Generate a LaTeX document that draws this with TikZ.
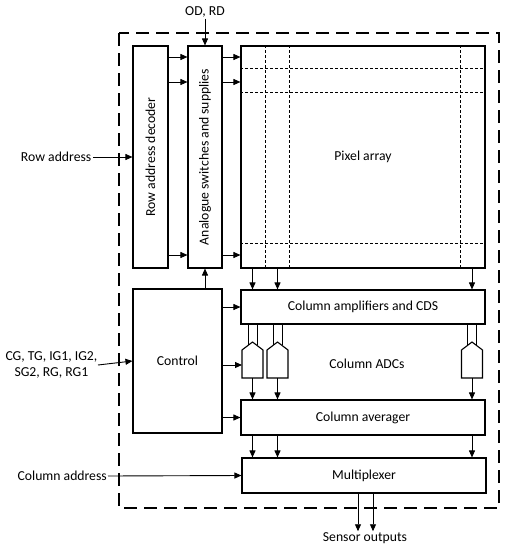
\documentclass[tikz,border=0pt]{standalone}
\usepackage{fontspec}
\setmainfont{Carlito}
\usetikzlibrary{calc,arrows.meta}

\begin{document}
\begin{tikzpicture}[x=1pt,y=-1pt,font=\fontsize{13.7}{15.5}\selectfont,
		box/.style={draw,line width=1.1pt,inner sep=0pt},
		grid/.style={line width=0.6pt,dash pattern=on 3pt off 2pt},
		arr/.style={line width=0.9pt,-{Triangle[length=7pt,width=6pt]}}]
				\useasboundingbox (0,0) rectangle (509,550);
				\draw[line width=1.7pt,dash pattern=on 13pt off 7pt] (119,33) rectangle (499,508);

				\node (dec) at (150.5,157)[box,minimum width=35pt,minimum height=222pt]{};
				\node (sw) at (205,157)[box,minimum width=34pt,minimum height=222pt]{};
				\node (pix) at (363,157)[box,minimum width=244pt,minimum height=222pt]{};
				\node (ctrl) at (177.5,361)[box,minimum width=89pt,minimum height=144pt]{Control};
				\node (amp) at (363,307)[box,minimum width=244pt,minimum height=34pt]{Column amplifiers and CDS};
				\node (avg) at (363,417.5)[box,minimum width=244pt,minimum height=35pt]{Column averager};
				\node (mux) at (364,475.5)[box,minimum width=244pt,minimum height=35pt]{Multiplexer};

				\node at (dec)[rotate=90]{Row address decoder};
				\node at (sw)[rotate=90]{Analogue switches and supplies};
				\node at (pix){Pixel array};
				\node (adclbl) at (367,364){Column ADCs};

				\foreach \x in {265,289,460}
					\draw[grid] (\x,0 |- pix.north) -- (\x,0 |- pix.south);
				\foreach \y in {68,92,243}
					\draw[grid] (pix.west |- 0,\y) -- (pix.east |- 0,\y);

				\node (rowaddr) at (93,157)[anchor=east,inner sep=1.5pt]{Row address};
				\node (gates) at (98,365)[anchor=east,align=center,inner sep=0.5pt]{CG, TG, IG1, IG2,\\SG2, RG, RG1};
				\node (coladdr) at (108,476)[anchor=east,inner sep=1pt]{Column address};
				\node (odrd) at (205,12)[inner sep=1pt]{OD, RD};
				\node (out) at (365,538)[inner sep=1pt]{Sensor outputs};

				\draw[arr] (rowaddr.east) -- (dec.west);
				\draw[arr] (gates.east) -- (ctrl.west);
				\draw[arr] (coladdr.east) -- (mux.west);
				\draw[arr] (odrd.south) -- (sw.north);
				\draw[arr] (sw.south |- ctrl.north) -- (sw.south);

				\foreach \y in {57,82,255}{
					\draw[arr] (dec.east |- 0,\y) -- (sw.west |- 0,\y);
					\draw[arr] (sw.east |- 0,\y) -- (pix.west |- 0,\y);
				}

				\coordinate (adcin) at (242,365);
				\draw[arr] (ctrl.east |- amp.west) -- (amp.west);
				\draw[arr] (ctrl.east |- adcin) -- (adcin);
				\draw[arr] (ctrl.east |- avg.west) -- (avg.west);

				\foreach \n/\x in {1/252.5,2/277.5,3/472}{
					\coordinate (col\n) at (\x,0);
					\coordinate (adc\n) at (\x,378);
					\draw[line width=1.1pt] (\x-10.5,378) -- (\x-10.5,350) -- (\x,342) -- (\x+10.5,350) -- (\x+10.5,378) -- cycle;
					\draw[line width=1pt] (\x-4.5,0 |- amp.south) -- (\x-4.5,345.4);
					\draw[line width=1pt] (\x+4.5,0 |- amp.south) -- (\x+4.5,345.4);
					\draw[arr] (col\n |- pix.south) -- (col\n |- amp.north);
					\draw[arr] (adc\n) -- (col\n |- avg.north);
					\draw[arr] (col\n |- avg.south) -- (col\n |- mux.north);
				}

				\draw[arr] (358,0 |- mux.south) -- (358,0 |- out.north);
				\draw[arr] (373,0 |- mux.south) -- (373,0 |- out.north);
			\end{tikzpicture}
\end{document}
